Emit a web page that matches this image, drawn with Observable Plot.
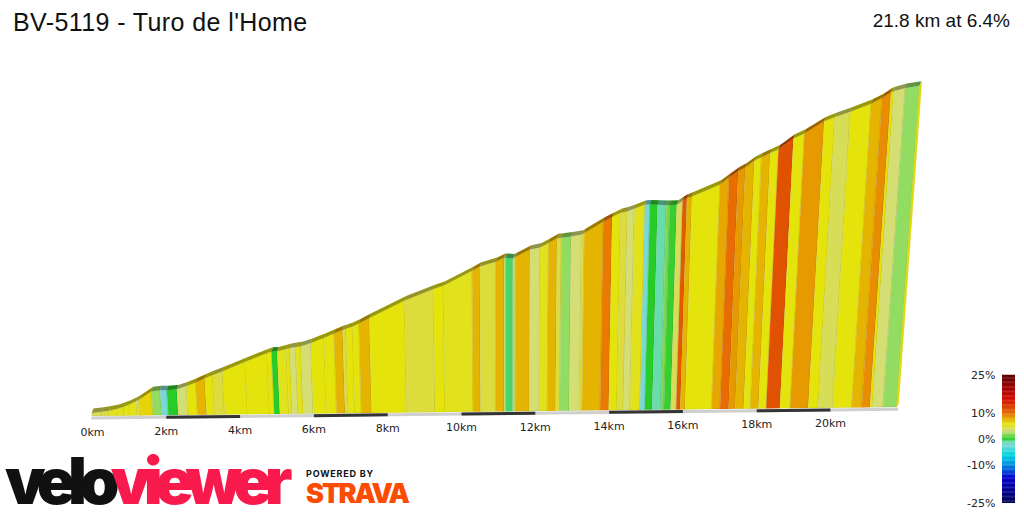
<!DOCTYPE html>
<html>
<head>
<meta charset="utf-8">
<script src="https://cdn.jsdelivr.net/npm/d3@7"></script>
<script src="https://cdn.jsdelivr.net/npm/@observablehq/plot@0.6"></script>
<style>
  body { margin: 0; background: #fff; }
  #wrap { position: relative; width: 1024px; height: 512px; overflow: hidden; background: #fff; }
  #main, #legend, #brand { position: absolute; }
  #main { left: 0; top: 0; }
  #legend { left: 950px; top: 365px; }
  #brand { left: 0; top: 428px; overflow: visible; }
  .t { position: absolute; white-space: nowrap; }
  #title { left: 13px; top: 10px; font: 25px/25px "Liberation Sans", Arial, sans-serif; letter-spacing: 0.4px; color: #111; }
  #sub { right: 14px; top: 11px; font: 19px/19px "Liberation Sans", Arial, sans-serif; color: #111; }
</style>
</head>
<body>
<div id="wrap">
  <div id="main"></div>
  <div id="legend"></div>
  <svg id="brand" width="420" height="84" viewBox="0 0 420 84">
    <text class="fit" data-fit="280" x="5" y="76" fill="#111"
      style="font: 900 64px Inter, Roboto, sans-serif;">velo<tspan fill="#f81a4c">viewer</tspan></text>
    <text class="fit" data-fit="68" x="306" y="49" fill="#111"
      style="font: 700 9px Inter, Roboto, sans-serif;">POWERED BY</text>
    <text class="fit" data-fit="102" x="306" y="75" fill="#fc4c02"
      style="font: 900 27px Inter, Roboto, sans-serif;">STRAVA</text>
  </svg>
  <div class="t" id="title">BV-5119 - Turo de l'Home</div>
  <div class="t" id="sub">21.8 km at 6.4%</div>
</div>
<script>
// ---- data ----
// segment boundaries (km)
const dist = [0.00,0.28,0.46,0.70,0.88,1.03,1.23,1.30,1.66,1.89,2.07,2.34,2.61,2.86,3.11,3.33,3.60,4.22,4.82,4.94,
  5.09,5.34,5.43,5.59,5.73,6.00,6.36,6.63,6.86,6.95,7.13,7.30,7.58,8.53,9.30,9.57,10.33,10.53,10.95,11.17,
  11.22,11.40,11.47,11.85,12.12,12.34,12.56,12.68,12.93,13.21,13.28,13.77,14.00,14.22,14.40,14.58,14.85,14.98,15.18,15.41,
  15.50,15.68,15.83,15.94,16.07,16.79,17.02,17.25,17.43,17.66,17.84,18.06,18.27,18.64,18.92,19.41,19.68,20.07,20.59,20.86,
  21.08,21.15,21.44,21.80];
// elevation at each boundary (m)
const elev = [310,315,319,327,336,345,360,366,402,406,406,409,423,438,456,470,486,526,563,569,
  570,580,584,588,591,605,627,645,660,665,675,688,711,786,834,849,912,930,950,967,
  967,964,970,1002,1011,1030,1050,1052,1057,1065,1072,1120,1140,1158,1165,1176,1193,1193,1192,1190,
  1190,1191,1208,1218,1226,1277,1307,1334,1350,1380,1394,1412,1428,1474,1496,1548,1566,1589,1623,1647,
  1672,1677,1690,1699];
// gradient colour of each segment (%)
const grade = [4,4.5,5.5,5.5,6,5.5,4,6.5,2,-2.5,0,3.5,6,7.5,6,4.5,6,6,6,0,
  5.5,6,3.5,5.5,3.5,6,6,7.5,4.5,6,6,7.5,6,4.5,6,5.5,7.5,4.5,7.5,3,
  -0.5,3,7.5,3.5,5.5,7.5,4.5,2,3.5,4.5,7.5,9.5,6,4.5,3.5,5.5,-2.5,0,-1,1.5,
  0.3,4,11,7.5,6,8,10,8.5,7.5,6,7.5,6,11.5,6,8.5,6,4,6,7.5,9,
  6,3.5,2];
const kmTicks = [0,2,4,6,8,10,12,14,16,18,20];
const scaleBars = [[2,4],[6,8],[10,12],[14,16],[18,20]];
const legendTicks = [25,10,0,-10,-25];
const gradeDomain = [-25,-15,-10,-6,-2.5,-1,0,1.5,2,3.5,4.5,6,7.5,9,10,11.5,15,20,25];
const gradeColors = ["#000050","#0000d0","#0090e0","#00d8e0","#78d8d4","#68dcaa","#28cc28","#7cd850","#92dc62",
  "#d4de72","#dcdc3c","#e4e40c","#e4b400","#e88c00","#e86c00","#e05200","#d81000","#a00000","#580000"];

// ---- view geometry (perspective of the 3D ribbon) ----
const KM_PX = 36.9, X0 = 92, Y0 = 416, PX_M = 0.2292, BASE = 297, RISE = 0.41, VP = 5360, DC = 11.33;
const total = dist[dist.length - 1];
const pu = (d, e) => d + (d - DC) * ((e - BASE) * PX_M) / VP;
const pv = (d, e) => (e - BASE) + d * RISE / PX_M;
const DU = 1.6 / KM_PX, DV = 4.4 / PX_M;

const rows = grade.flatMap((g, i) => [
  {i, d: dist[i], e: elev[i], g},
  {i, d: dist[i + 1], e: elev[i + 1], g}
]);
const endFace = [{d: total, e: BASE}, {d: total, e: elev[elev.length - 1]}];
const colorScale = {type: "linear", domain: gradeDomain, range: gradeColors};

const main = Plot.plot({
  width: 1024, height: 512,
  marginTop: 0, marginRight: 0, marginBottom: 0, marginLeft: 0,
  x: {domain: [-X0 / KM_PX, (1024 - X0) / KM_PX], range: [0, 1024], axis: null},
  y: {domain: [-(512 - Y0) / PX_M, Y0 / PX_M], range: [512, 0], axis: null},
  color: colorScale,
  style: {fontFamily: "DejaVu Sans", background: "transparent"},
  marks: [
    Plot.area(rows, {
      x1: r => pu(r.d, BASE), y1: r => pv(r.d, BASE),
      x2: r => pu(r.d, r.e), y2: r => pv(r.d, r.e),
      z: "i", fill: "g", stroke: "#000", strokeOpacity: 0.1, strokeWidth: 0.6
    }),
    Plot.area(rows, {
      x1: r => pu(r.d, r.e), y1: r => pv(r.d, r.e),
      x2: r => pu(r.d, r.e) + DU, y2: r => pv(r.d, r.e) + DV,
      z: "i", fill: "g"
    }),
    Plot.area(rows, {
      x1: r => pu(r.d, r.e), y1: r => pv(r.d, r.e),
      x2: r => pu(r.d, r.e) + DU, y2: r => pv(r.d, r.e) + DV,
      z: "i", fill: "#000", fillOpacity: 0.33
    }),
    Plot.area(endFace, {
      x1: r => pu(r.d, r.e), y1: r => pv(r.d, r.e),
      x2: r => pu(r.d, r.e) + DU * 1.3, y2: r => pv(r.d, r.e) + DV * 0.8,
      fill: "#e4e000", stroke: "#c8c400", strokeWidth: 0.4
    }),
    Plot.line([0, total], {
      x: d => pu(d, BASE), y: d => pv(d, BASE), dy: 1.6,
      stroke: "#cfcfcf", strokeWidth: 3
    }),
    Plot.link(scaleBars, {
      x1: s => pu(s[0], BASE), y1: s => pv(s[0], BASE),
      x2: s => pu(s[1], BASE), y2: s => pv(s[1], BASE),
      dy: 1.6, stroke: "#333", strokeWidth: 3
    }),
    Plot.text(kmTicks, {
      x: d => pu(d, BASE), y: d => pv(d, BASE), text: d => d + "km",
      dy: 15.5, fontSize: 11, fill: "#222"
    })
  ]
});
document.getElementById("main").appendChild(main);

const steps = d3.range(-25, 25, 0.5);
const legend = Plot.plot({
  width: 74, height: 150,
  marginTop: 10, marginBottom: 12, marginLeft: 52, marginRight: 9,
  x: {axis: null},
  y: {domain: [-25, 25], ticks: legendTicks, tickFormat: d => d + "%", tickSize: 0, tickPadding: 7, label: null},
  color: colorScale,
  style: {fontFamily: "DejaVu Sans", fontSize: "11px", color: "#222", background: "transparent"},
  marks: [
    Plot.rect(steps, {y1: d => d, y2: d => d + 0.6, fill: d => d + 0.25})
  ]
});
document.getElementById("legend").appendChild(legend);

// fit brand texts to their widths by letter spacing
document.querySelectorAll("#brand .fit").forEach(el => {
  const n = el.textContent.length;
  const len = el.getComputedTextLength();
  el.style.letterSpacing = ((+el.dataset.fit - len) / n) + "px";
});
</script>
</body>
</html>
